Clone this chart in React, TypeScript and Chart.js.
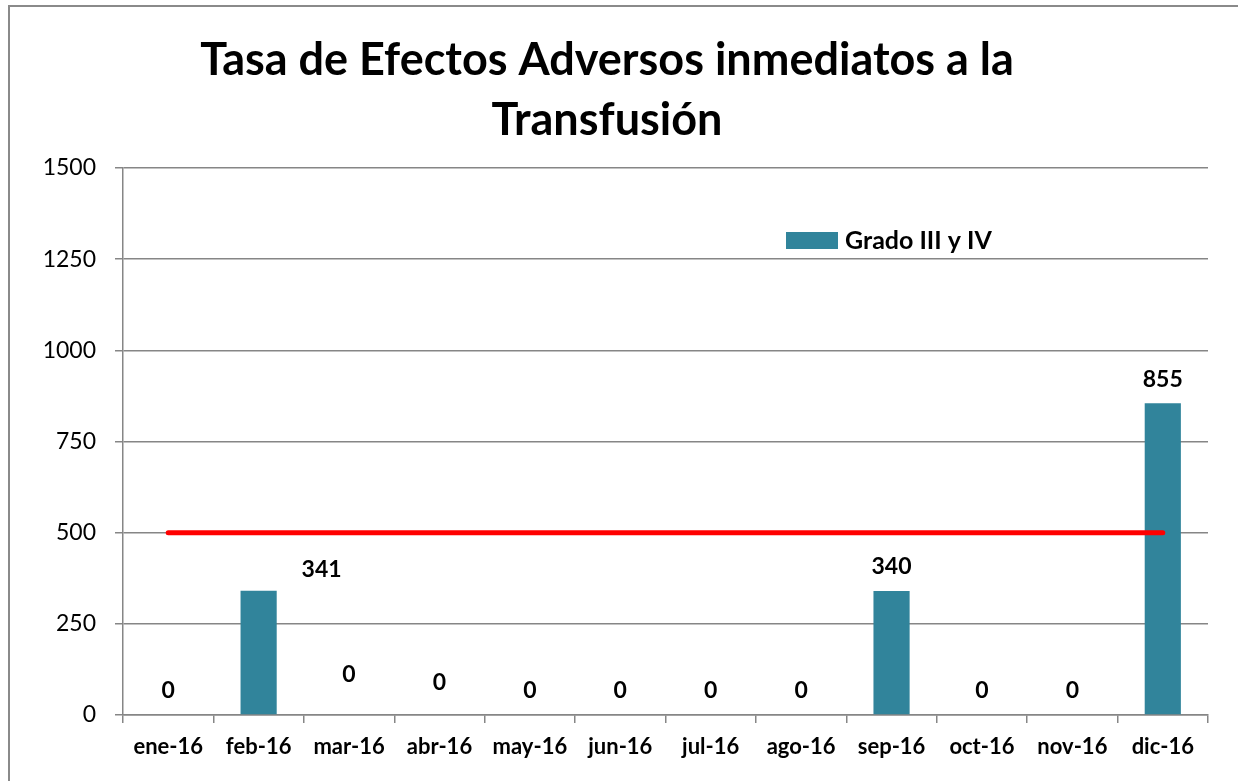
import React, { useEffect, useRef } from "react";
import { Chart, registerables } from "chart.js";

Chart.register(...registerables);

const categories = ["ene-16", "feb-16", "mar-16", "abr-16", "may-16", "jun-16", "jul-16", "ago-16", "sep-16", "oct-16", "nov-16", "dic-16"];
const gradoValues = [0, 341, 0, 0, 0, 0, 0, 0, 340, 0, 0, 855];
const limitValues = [500, 500, 500, 500, 500, 500, 500, 500, 500, 500, 500, 500];
const yTicks = [0, 250, 500, 750, 1000, 1250, 1500];
const titleLines = ["Tasa de Efectos Adversos inmediatos a la", "Transfusión"];
const seriesLabel = "Grado III y IV";
// label nudges [dx, dy] in px, as placed in the original
const labelNudges: [number, number][] = [[0, 0], [63, 3], [0, -16], [0, -8], [0, 0], [0, 0], [0, 0], [0, 0], [0, 0], [0, 0], [0, 0], [0, 0]];

const BAR = "#31849B";
const FONT = "Lato, 'Open Sans', sans-serif";

const overlayPlugin = {
  id: "overlay",
  afterDatasetsDraw(chart: any) {
    const ctx = chart.ctx;
    ctx.save();
    // data labels
    const meta = chart.getDatasetMeta(0);
    ctx.fillStyle = "#000";
    ctx.font = `bold 23px ${FONT}`;
    ctx.textAlign = "center";
    ctx.textBaseline = "middle";
    meta.data.forEach((el: any, i: number) => {
      const [dx, dy] = labelNudges[i];
      ctx.fillText(String(gradoValues[i]), el.x + dx, el.y - 24 + dy);
    });
    // legend
    const lx = 786, ly = 232;
    ctx.fillStyle = BAR;
    ctx.fillRect(lx, ly, 52, 17);
    ctx.fillStyle = "#000";
    ctx.textAlign = "left";
    ctx.font = `bold 25px ${FONT}`;
    ctx.fillText(seriesLabel, lx + 59, ly + 9);
    // title
    ctx.font = `bold 45px ${FONT}`;
    ctx.textAlign = "center";
    ctx.textBaseline = "alphabetic";
    ctx.fillText(titleLines[0], 607, 75);
    ctx.fillText(titleLines[1], 607, 135);
    ctx.restore();
  },
};

export default function App() {
  const ref = useRef<HTMLCanvasElement>(null);
  useEffect(() => {
    if (!ref.current) return;
    const chart = new Chart(ref.current, {
      type: "bar",
      data: {
        labels: categories,
        datasets: [
          {
            type: "bar",
            label: seriesLabel,
            data: gradoValues,
            backgroundColor: BAR,
            borderWidth: 0,
            barPercentage: 0.4,
            categoryPercentage: 1,
            order: 2,
          },
          {
            type: "line",
            label: "Meta",
            data: limitValues,
            borderColor: "#FF0000",
            borderWidth: 5,
            borderCapStyle: "round",
            pointRadius: 0,
            fill: false,
            order: 1,
          } as any,
        ],
      },
      options: {
        animation: false,
        responsive: false,
        layout: { padding: { top: 168, right: 30, bottom: 0, left: 0 } },
        plugins: {
          legend: { display: false },
          title: { display: false },
          tooltip: { enabled: false },
        },
        scales: {
          x: {
            offset: true,
            grid: { display: true, drawOnChartArea: false, drawTicks: true, tickLength: 8, color: "#868686", lineWidth: 1.5, offset: true },
            border: { display: true, color: "#868686", width: 1.5 },
            ticks: { color: "#000", font: { family: FONT, size: 22, weight: "bold" }, padding: 11, maxRotation: 0, autoSkip: false },
            afterFit: (s: any) => { s.height = 66; },
          },
          y: {
            min: 0,
            max: 1500,
            afterBuildTicks: (s: any) => { s.ticks = yTicks.map((v) => ({ value: v })); },
            grid: { color: "#868686", lineWidth: 1.5, drawTicks: true, tickLength: 8 },
            border: { display: true, color: "#868686", width: 1.5 },
            ticks: { color: "#000", font: { family: FONT, size: 23 }, padding: 19, callback: (v: any) => String(v) },
            afterFit: (s: any) => { s.width = 123; },
          },
        },
      },
      plugins: [overlayPlugin],
    });
    return () => chart.destroy();
  }, []);
  return (
    <div style={{ position: "fixed", left: 0, top: 0, width: 1238, height: 781, background: "#fff", overflow: "hidden" }}>
      <canvas ref={ref} width={1238} height={781} style={{ position: "absolute", left: 0, top: 0 }} />
      <div style={{ position: "absolute", left: 8, top: 5, width: 1300, height: 900, borderLeft: "2px solid #8a8a8a", borderTop: "2px solid #8a8a8a", pointerEvents: "none" }} />
    </div>
  );
}
